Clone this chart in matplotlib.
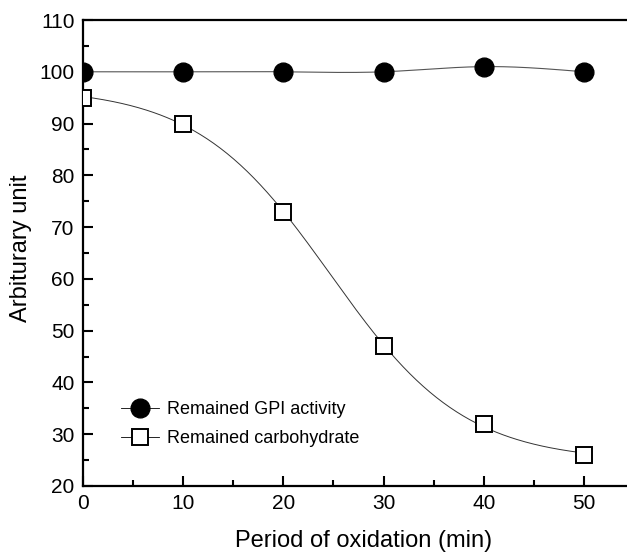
import numpy as np
import matplotlib
matplotlib.use("Agg")
import matplotlib.pyplot as plt

plt.rcParams['font.family'] = ['Liberation Sans', 'DejaVu Sans']

# data
time_min = [0, 10, 20, 30, 40, 50]
gpi_activity = [100, 100, 100, 100, 101, 100]
carbohydrate = [95, 90, 73, 47, 32, 26]


def logistic(p, x):
    a, d, x0, s = p
    return d + (a - d) / (1 + np.exp((x - x0) / s))


def fit_logistic(x, y, p0):
    # small damped Gauss-Newton fit, no scipy needed
    p = np.array(p0, dtype=float)
    lam = 1e-2
    for _ in range(200):
        r = y - logistic(p, x)
        J = np.zeros((len(x), len(p)))
        for k in range(len(p)):
            dp = np.zeros_like(p)
            dp[k] = 1e-6 * max(1.0, abs(p[k]))
            J[:, k] = (logistic(p + dp, x) - logistic(p - dp, x)) / (2 * dp[k])
        A = J.T @ J + lam * np.eye(len(p))
        step = np.linalg.solve(A, J.T @ r)
        new = p + step
        if np.sum((y - logistic(new, x)) ** 2) < np.sum(r ** 2):
            p = new
            lam *= 0.5
        else:
            lam *= 4
    return p


def natural_spline(x, y, xs):
    x = np.asarray(x, float)
    y = np.asarray(y, float)
    n = len(x)
    h = np.diff(x)
    A = np.zeros((n, n))
    b = np.zeros(n)
    A[0, 0] = A[-1, -1] = 1
    for i in range(1, n - 1):
        A[i, i - 1] = h[i - 1]
        A[i, i] = 2 * (h[i - 1] + h[i])
        A[i, i + 1] = h[i]
        b[i] = 6 * ((y[i + 1] - y[i]) / h[i] - (y[i] - y[i - 1]) / h[i - 1])
    M = np.linalg.solve(A, b)
    out = np.empty_like(xs)
    for j, xv in enumerate(xs):
        i = min(max(np.searchsorted(x, xv) - 1, 0), n - 2)
        t1 = x[i + 1] - xv
        t0 = xv - x[i]
        out[j] = (M[i] * t1 ** 3 + M[i + 1] * t0 ** 3) / (6 * h[i]) \
            + (y[i] / h[i] - M[i] * h[i] / 6) * t1 \
            + (y[i + 1] / h[i] - M[i + 1] * h[i] / 6) * t0
    return out


x = np.array(time_min, float)
xs = np.linspace(0, 50, 300)
p = fit_logistic(x, np.array(carbohydrate, float), [97, 22, 27, 7])

fig = plt.figure(figsize=(6.27, 5.56), dpi=100)
ax = fig.add_axes([0.1324, 0.126, 0.8676, 0.838])

ax.plot(xs, natural_spline(time_min, gpi_activity, xs), color='#555555', lw=0.8, zorder=2)
ax.plot(xs, logistic(p, xs), color='#333333', lw=0.7, zorder=2)

ax.plot(time_min, gpi_activity, 'o', ms=13.5, color='black', zorder=3)
ax.plot(time_min, carbohydrate, 's', ms=11.5, mfc='white', mec='black', mew=1.4, zorder=3)

# legend handles (marker with short line on both sides)
h1, = ax.plot([], [], '-o', color='black', lw=0.6, ms=13.5)
h2, = ax.plot([], [], '-s', color='black', lw=0.6, ms=11.5, mfc='white', mew=1.4)
ax.legend([h1, h2], ['Remained GPI activity', 'Remained carbohydrate'],
          loc='center left', bbox_to_anchor=(0.07, 0.133), frameon=False,
          borderaxespad=0, borderpad=0,
          fontsize=13, handlelength=2.1, handletextpad=0.45, labelspacing=0.65)

ax.set_xlim(0, 54.3)
ax.set_ylim(20, 110)
ax.set_xticks([0, 10, 20, 30, 40, 50])
ax.set_xticks([5, 15, 25, 35, 45], minor=True)
ax.set_yticks(range(20, 111, 10))
ax.set_yticks(range(25, 110, 10), minor=True)
ax.tick_params(which='both', direction='in', width=1.5, labelsize=15, top=False, right=False)
ax.tick_params(which='major', length=7, pad=6)
ax.tick_params(which='minor', length=4)

for side in ['left', 'bottom', 'top']:
    ax.spines[side].set_linewidth(1.6)
ax.spines['right'].set_visible(False)

ax.set_xlabel('Period of oxidation (min)', fontsize=17)
ax.set_ylabel('Arbiturary unit', fontsize=17)
ax.xaxis.set_label_coords(0.515, -0.095)
ax.yaxis.set_label_coords(-0.093, 0.51)

fig.savefig('out.png', dpi=100)
